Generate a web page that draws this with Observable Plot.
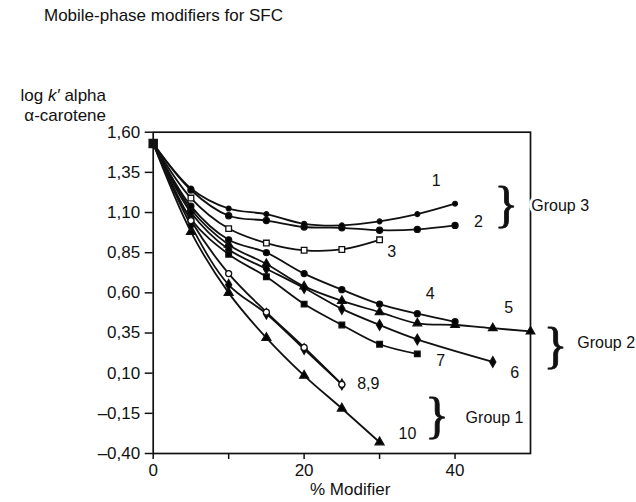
<!DOCTYPE html>
<html>
<head>
<meta charset="utf-8">
<script src="https://cdn.jsdelivr.net/npm/d3@7"></script>
<script src="https://cdn.jsdelivr.net/npm/@observablehq/plot@0.6"></script>
<style>
  html, body { margin: 0; padding: 0; background: #fff; }
  #wrap { position: relative; width: 636px; height: 502px; font-family: "Liberation Sans", Arial, sans-serif; color: #111; }
  .ann { position: absolute; white-space: nowrap; }
  #title { left: 44px; top: 6px; font-size: 17px; }
  #ylab { right: 530px; top: 86px; font-size: 17px; text-align: right; line-height: 20px; }
  #xlab { left: 310px; top: 480px; font-size: 17px; }
  svg { position: absolute; left: 0; top: 0; }
</style>
</head>
<body>
<div id="wrap">
  <div class="ann" id="title">Mobile-phase modifiers for SFC</div>
  <div class="ann" id="ylab">log <i>k′</i> alpha<br>α-carotene</div>
  <div class="ann" id="xlab">% Modifier</div>
</div>
<script>
// % modifier positions at which each curve was measured
const pct = [0, 5, 10, 15, 20, 25, 30, 35, 40, 45, 50];

// log k' alpha-carotene per modifier (null = not measured)
const s1  = [1.53, 1.25, 1.125, 1.09, 1.03, 1.02, 1.045, 1.09, 1.155, null, null];
const s2  = [1.53, 1.24, 1.08, 1.05, 1.01, 1.005, 0.99, 0.995, 1.02, null, null];
const s3  = [1.53, 1.19, 1.00, 0.91, 0.865, 0.87, 0.93, null, null, null, null];
const s4  = [1.53, 1.14, 0.93, 0.85, 0.72, 0.62, 0.53, 0.47, 0.42, null, null];
const s5  = [1.53, 1.12, 0.90, 0.78, 0.64, 0.55, 0.48, 0.41, 0.40, 0.38, 0.36];
const s6  = [1.53, 1.10, 0.87, 0.75, 0.63, 0.50, 0.40, 0.31, null, 0.17, null];
const s7  = [1.53, 1.06, 0.84, 0.70, 0.53, 0.40, 0.28, 0.22, null, null, null];
const s8  = [1.53, 1.02, 0.65, 0.47, 0.25, 0.03, null, null, null, null, null];
const s9  = [1.53, 1.05, 0.72, 0.48, 0.26, 0.03, null, null, null, null, null];
const s10 = [1.53, 0.98, 0.60, 0.32, 0.085, -0.12, -0.33, null, null, null, null];

const seriesNames = ["1", "2", "3", "4", "5", "6", "7", "8", "9", "10"];
const seriesValues = [s1, s2, s3, s4, s5, s6, s7, s8, s9, s10];
const seriesSymbols = ["circle", "circle", "square", "circle", "triangle", "diamond", "square", "diamond", "circle", "triangle"];
const seriesFill = ["black", "black", "white", "black", "black", "black", "black", "black", "white", "black"];
const seriesSize = [1.6, 2.6, 2.8, 2.5, 2.8, 2.8, 2.8, 2.8, 2.5, 3.0];

// curve labels
const labelText = ["1", "2", "3", "4", "5", "6", "7", "8,9", "10"];
const labelX = [37.5, 43.1, 31.6, 36.7, 47.1, 47.9, 38.1, 28.5, 33.7];
const labelY = [1.30, 1.044, 0.857, 0.595, 0.508, 0.103, 0.178, 0.034, -0.277];

// group annotations
const groupText = ["Group 3", "Group 2", "Group 1"];
const groupX = [50.1, 56.2, 41.4];
const groupY = [1.143, 0.29, -0.176];
const braceX = [46.8, 53.3, 37.6];
const braceY = [1.149, 0.268, -0.168];

// axis ticks
const yTicks = [1.60, 1.35, 1.10, 0.85, 0.60, 0.35, 0.10, -0.15, -0.40];
const xTicks = [0, 10, 20, 30, 40];
const xTickLabels = [0, 20, 40];

const rows = [];
seriesValues.forEach((vals, si) => {
  vals.forEach((v, i) => {
    if (v != null) rows.push({series: seriesNames[si], si, x: pct[i], y: v, first: i === 0});
  });
});
const labels = labelText.map((t, i) => ({t, x: labelX[i], y: labelY[i]}));
const groups = groupText.map((t, i) => ({t, x: groupX[i], y: groupY[i], bx: braceX[i], by: braceY[i]}));

const fmtY = d => (d < 0 ? "–" : "") + Math.abs(d).toFixed(2).replace(".", ",");

const chart = Plot.plot({
  width: 636,
  height: 502,
  marginLeft: 152.7,
  marginRight: 106,
  marginTop: 131.7,
  marginBottom: 49,
  style: {fontFamily: "Liberation Sans, Arial, sans-serif", fontSize: "17px", color: "#111", background: "transparent"},
  x: {domain: [0, 50], ticks: xTicks, tickSize: 6, tickPadding: 4,
      tickFormat: d => xTickLabels.includes(d) ? String(d) : "", label: null},
  y: {domain: [-0.40, 1.60], ticks: yTicks, tickSize: 8, tickPadding: 5, tickFormat: fmtY, label: null},
  marks: [
    Plot.frame({stroke: "#111", strokeWidth: 1.7}),
    Plot.line(rows, {x: "x", y: "y", z: "series", stroke: "#111", strokeWidth: 1.8, curve: "catmull-rom"}),
    Plot.dot(rows.filter(d => !d.first), {
      x: "x", y: "y",
      symbol: d => seriesSymbols[d.si],
      r: d => seriesSize[d.si],
      fill: d => seriesFill[d.si],
      stroke: "#111", strokeWidth: 1.3
    }),
    Plot.dot(rows.filter(d => d.first && d.si === 0), {x: "x", y: "y", symbol: "square", r: 4.5, fill: "#111", stroke: "#111"}),
    Plot.text(labels, {x: "x", y: "y", text: "t", fontSize: 16, fill: "#111"}),
    Plot.text(groups, {x: "bx", y: "by", text: () => "}", fontSize: 50, fontFamily: "Liberation Serif, serif", fill: "#111", stroke: "#111", strokeWidth: 0.8}),
    Plot.text(groups, {x: "x", y: "y", text: "t", fontSize: 16, textAnchor: "start", fill: "#111", stroke: "white", strokeWidth: 6})
  ]
});
chart.setAttribute("style", (chart.getAttribute("style") || "") + ";position:absolute;left:0;top:0;overflow:visible;");
chart.querySelectorAll("[aria-label='x-axis tick'] path, [aria-label='y-axis tick'] path").forEach(p => p.setAttribute("stroke-width", "1.5"));
document.getElementById("wrap").appendChild(chart);
</script>
</body>
</html>
